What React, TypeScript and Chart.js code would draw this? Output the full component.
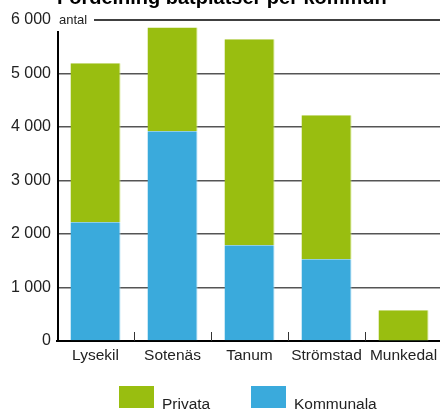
import React, { useEffect, useRef } from "react";
import { Chart, registerables } from "chart.js";

Chart.register(...registerables);

const title = "Fördelning båtplatser per kommun";
const unitLabel = "antal";
const categories = ["Lysekil", "Sotenäs", "Tanum", "Strömstad", "Munkedal"];
const privata = [2970, 1940, 3850, 2690, 565];
const kommunala = [2220, 3920, 1790, 1530, 10];
const seriesNames = ["Privata", "Kommunala"];
const yMax = 6000;
const yStep = 1000;

const GREEN = "#99be10";
const BLUE = "#3aaadc";
const FONT = "'Liberation Sans', Arial, Helvetica, sans-serif";

const fmt = (v: number) => String(v).replace(/\B(?=(\d{3})+(?!\d))/g, " ");

const decor = {
  id: "decor",
  afterDatasetsDraw(chart: any) {
    const { ctx, chartArea, scales } = chart;
    const y = scales.y;
    const x = scales.x;
    ctx.save();
    // y axis line
    ctx.strokeStyle = "#000";
    ctx.lineWidth = 2;
    ctx.beginPath();
    ctx.moveTo(chartArea.left + 1, 31);
    ctx.lineTo(chartArea.left + 1, chartArea.bottom);
    ctx.stroke();
    // top line at max
    const yTop = y.getPixelForValue(yMax);
    ctx.lineWidth = 1.5;
    ctx.beginPath();
    ctx.moveTo(94, yTop);
    ctx.lineTo(chart.width, yTop);
    ctx.stroke();
    // unit label
    ctx.fillStyle = "#222";
    ctx.font = `13px ${FONT}`;
    ctx.textBaseline = "middle";
    ctx.textAlign = "left";
    ctx.fillText(unitLabel, 59, yTop);
    // upward ticks between categories
    ctx.strokeStyle = "#333";
    ctx.lineWidth = 1;
    for (let i = 0; i < categories.length - 1; i++) {
      const bx = Math.round((x.getPixelForValue(i) + x.getPixelForValue(i + 1)) / 2) + 0.5;
      ctx.beginPath();
      ctx.moveTo(bx, chartArea.bottom);
      ctx.lineTo(bx, chartArea.bottom - 9);
      ctx.stroke();
    }
    // title (partially cut off at top)
    ctx.fillStyle = "#000";
    let size = 18;
    ctx.font = `bold ${size}px ${FONT}`;
    const w = ctx.measureText(title).width;
    size = (size * 330) / w;
    ctx.font = `bold ${size}px ${FONT}`;
    ctx.textBaseline = "alphabetic";
    ctx.textAlign = "left";
    ctx.fillText(title, 57, 3.5);
    // legend
    const boxX = [119, 251];
    ctx.font = `15.5px ${FONT}`;
    seriesNames.forEach((name: string, i: number) => {
      const ds = chart.data.datasets.find((d: any) => d.label === name);
      ctx.fillStyle = ds.backgroundColor;
      ctx.fillRect(boxX[i], 386, 35, 22);
      ctx.fillStyle = "#222";
      ctx.fillText(name, boxX[i] + 43, 409);
    });
    ctx.restore();
  },
};

export default function App() {
  const ref = useRef<HTMLCanvasElement>(null);
  useEffect(() => {
    document.body.style.overflow = "hidden";
    const chart = new Chart(ref.current as HTMLCanvasElement, {
      type: "bar",
      data: {
        labels: categories,
        datasets: [
          {
            label: seriesNames[1],
            data: kommunala,
            backgroundColor: BLUE,
            borderColor: "#a8dcf2",
            borderWidth: { top: 0, right: 1, bottom: 0, left: 0 },
            borderSkipped: false,
            categoryPercentage: 1,
            barPercentage: 0.65,
          },
          {
            label: seriesNames[0],
            data: privata,
            backgroundColor: GREEN,
            borderColor: "#cde47c",
            borderWidth: { top: 0, right: 1, bottom: 0, left: 0 },
            borderSkipped: false,
            categoryPercentage: 1,
            barPercentage: 0.65,
          },
        ] as any,
      },
      options: {
        responsive: false,
        animation: false,
        layout: { padding: { top: 20, right: 2, left: 0, bottom: 0 } },
        plugins: {
          legend: { display: false },
          title: { display: false },
          tooltip: { enabled: false },
        },
        scales: {
          x: {
            stacked: true,
            grid: { display: false },
            border: { display: true, color: "#000", width: 2 },
            ticks: {
              color: "#222",
              font: { size: 15.5, family: FONT },
              padding: -3,
              maxRotation: 0,
              autoSkip: false,
            },
            afterFit: (s: any) => {
              s.height = 70;
            },
          },
          y: {
            stacked: true,
            min: 0,
            max: yMax,
            grid: {
              drawTicks: false,
              color: (c: any) =>
                c.tick && (c.tick.value === yMax || c.tick.value === 0) ? "rgba(0,0,0,0)" : "#555",
              lineWidth: 1.4,
            },
            border: { display: false },
            ticks: {
              stepSize: yStep,
              color: "#222",
              font: { size: 16, family: FONT },
              padding: 6,
              callback: (v: any) => fmt(Number(v)),
            },
            afterFit: (s: any) => {
              s.width = 57;
            },
          },
        },
      },
      plugins: [decor],
    });
    return () => chart.destroy();
  }, []);
  return (
    <div style={{ position: "fixed", left: 0, top: 0, width: 444, height: 411, background: "#fff" }}>
      <canvas ref={ref} width={444} height={411} style={{ display: "block" }} />
    </div>
  );
}
